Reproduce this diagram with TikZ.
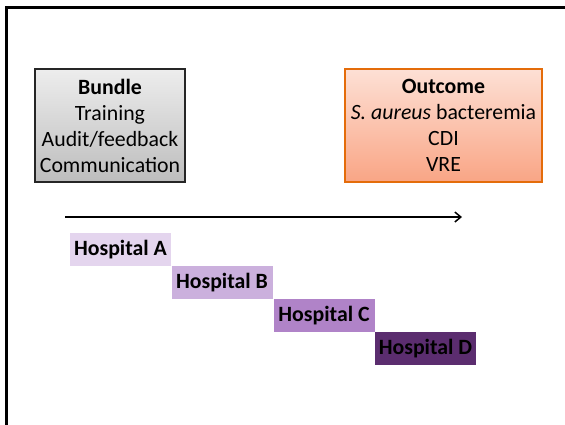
\documentclass[tikz,border=0pt]{standalone}
\usepackage{fontspec}
\setmainfont{Carlito}
\usetikzlibrary{arrows.meta}
\definecolor{bordgray}{HTML}{262626}
\definecolor{grtop}{HTML}{EDEDED}
\definecolor{grbot}{HTML}{BDBDBD}
\definecolor{ortop}{HTML}{FDE0D5}
\definecolor{orbot}{HTML}{F9A585}
\definecolor{orbord}{HTML}{E46C0A}
\definecolor{hosA}{HTML}{E4D5EE}
\definecolor{hosB}{HTML}{CBB0DD}
\definecolor{hosC}{HTML}{B083C8}
\definecolor{hosD}{HTML}{5B2D6F}
\tikzset{
  mainbox/.style={draw, line width=2pt, minimum width=#1, minimum height=113pt,
    inner sep=0pt, align=center, font=\fontsize{21.8}{26}\selectfont},
  hospbox/.style={fill=#1, minimum width=101pt, minimum height=33pt, inner sep=0pt,
    font=\fontsize{21.8}{26}\selectfont\bfseries},
}
\begin{document}
\begin{tikzpicture}[x=1pt,y=-1pt]
\useasboundingbox (0,0) rectangle (565,424);
\fill[white] (0,0) rectangle (565,424);
% frame
\draw[line width=3pt] (6,430) -- (6,7) -- (570,7);
% boxes
\node[mainbox=150pt, draw=bordgray, top color=grtop, bottom color=grbot] (bundle) at (110,125.5)
  {\textbf{Bundle}\\Training\\Audit/feedback\\Communication};
\node[mainbox=197pt, draw=orbord, top color=ortop, bottom color=orbot] (outcome) at (443.5,125.5)
  {\textbf{Outcome}\\\textit{S. aureus} bacteremia\\CDI\\VRE};
% timeline arrow
\coordinate (tstart) at (65,217);
\coordinate (tend) at (462,217);
\draw[line width=1.5pt, -{Straight Barb[length=6pt,width=10pt]}] (tstart) -- (tend);
% hospitals
\node[hospbox=hosA] (hA) at (120.5,249.5) {Hospital A};
\node[hospbox=hosB] (hB) at (222,282.5) {Hospital B};
\node[hospbox=hosC] (hC) at (324,315.5) {Hospital C};
\node[hospbox=hosD] (hD) at (425.5,348.5) {Hospital D};
\end{tikzpicture}
\end{document}
